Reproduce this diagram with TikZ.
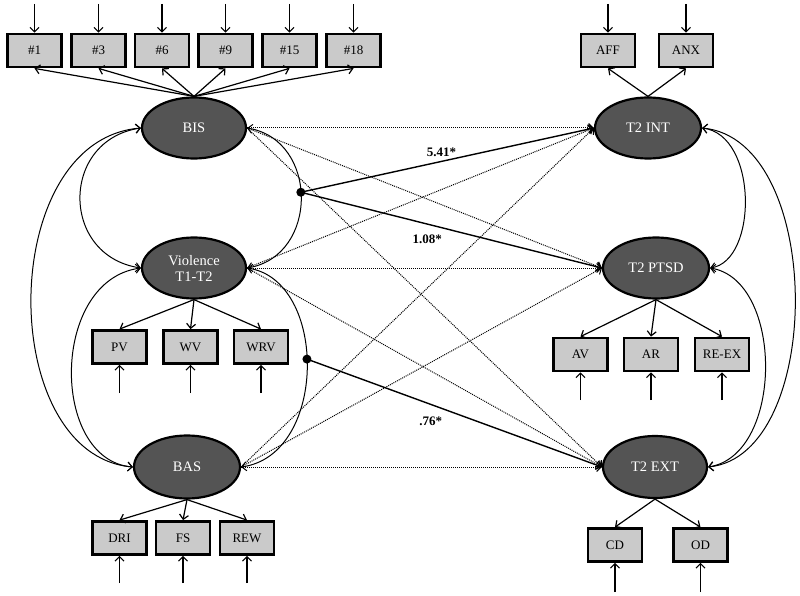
\documentclass[tikz,border=0pt]{standalone}
\usepackage{fontspec}
\setmainfont{Liberation Serif}
\usetikzlibrary{arrows.meta,shapes.geometric}
\definecolor{latgray}{HTML}{545454}
\definecolor{indgray}{HTML}{CACACA}
\begin{document}
\begin{tikzpicture}[x=1pt,y=-1pt,
  lat/.style={ellipse, draw=black, line width=2.2pt, fill=latgray, text=white,
    minimum width=104pt, minimum height=61pt, inner sep=0pt, align=center,
    font=\fontsize{14.5}{16}\selectfont},
  ind/.style={rectangle, draw=black, line width=2.8pt, fill=indgray,
    minimum width=54pt, minimum height=33pt, inner sep=0pt,
    font=\fontsize{13}{14}\selectfont},
  tipx/.tip={Straight Barb[length=4.5pt,width=9pt]},
  load/.style={-tipx, line width=1.2pt},
  errarr/.style={-tipx, line width=1.1pt},
  cov/.style={tipx-tipx, line width=1pt},
  dpath/.style={-tipx, line width=1pt, densely dotted},
  sig/.style={-tipx, line width=1.4pt},
  coef/.style={font=\bfseries\fontsize{13}{14}\selectfont},
  idot/.style={circle, fill=black, inner sep=0pt, minimum size=9pt}
]
\useasboundingbox (0,0) rectangle (800,596);

% latent variables
\node[lat] (BIS) at (194,128) {BIS};
\node[lat] (VIO) at (194,268) {Violence\\T1-T2};
\node[lat, minimum width=106pt, minimum height=63pt] (BAS) at (187,467) {BAS};
\node[lat, minimum width=106pt] (INT) at (648,128) {T2 INT};
\node[lat, minimum width=106pt] (PTSD) at (656,268) {T2 PTSD};
\node[lat, minimum height=62pt] (EXT) at (655,467) {T2 EXT};

% BIS indicators
\node[ind] (i1) at (34.5,50.5) {\#1};
\node[ind] (i3) at (98.5,50.5) {\#3};
\node[ind] (i6) at (162,50.5) {\#6};
\node[ind] (i9) at (225.5,50.5) {\#9};
\node[ind] (i15) at (289.5,50.5) {\#15};
\node[ind] (i18) at (353.5,50.5) {\#18};
% INT indicators
\node[ind] (aff) at (608,50.5) {AFF};
\node[ind] (anx) at (686,50.5) {ANX};
% Violence indicators
\node[ind] (pv) at (119.5,347) {PV};
\node[ind] (wv) at (190.5,347) {WV};
\node[ind] (wrv) at (261,347) {WRV};
% PTSD indicators
\node[ind] (av) at (580.5,354.5) {AV};
\node[ind] (ar) at (651,354.5) {AR};
\node[ind] (reex) at (722,354.5) {RE-EX};
% BAS indicators
\node[ind] (dri) at (119.5,538) {DRI};
\node[ind] (fs) at (183,538) {FS};
\node[ind] (rew) at (247,538) {REW};
% EXT indicators
\node[ind] (cd) at (615,545) {CD};
\node[ind] (od) at (700.5,545) {OD};

% error terms
\foreach \n/\x in {i1/34.5,i3/98.5,i6/162,i9/225.5,i15/289.5,i18/353.5,aff/608,anx/686}
  {\coordinate (e\n) at (\x,4); \draw[errarr] (e\n) -- (\n);}
\foreach \n/\x in {pv/119.5,wv/190.5,wrv/261}
  {\coordinate (e\n) at (\x,393); \draw[errarr] (e\n) -- (\n);}
\foreach \n/\x in {av/580.5,ar/651,reex/722}
  {\coordinate (e\n) at (\x,400); \draw[errarr] (e\n) -- (\n);}
\foreach \n/\x in {dri/119.5,fs/183,rew/247}
  {\coordinate (e\n) at (\x,583); \draw[errarr] (e\n) -- (\n);}
\foreach \n/\x in {cd/615,od/700.5}
  {\coordinate (e\n) at (\x,592); \draw[errarr] (e\n) -- (\n);}

% loadings
\foreach \n in {i1,i3,i6,i9,i15,i18} \draw[load] (BIS.north) -- (\n.south);
\foreach \n in {aff,anx} \draw[load] (INT.north) -- (\n.south);
\foreach \n in {pv,wv,wrv} \draw[load] (VIO.south) -- (\n.north);
\foreach \n in {av,ar,reex} \draw[load] (PTSD.south) -- (\n.north);
\foreach \n in {dri,fs,rew} \draw[load] (BAS.south) -- (\n.north);
\foreach \n in {cd,od} \draw[load] (EXT.south) -- (\n.north);

% left covariances
\draw[cov] (BIS.west) .. controls (60,140) and (60,256) .. (VIO.west);
\draw[cov] (VIO.west) .. controls (50,280) and (50,460) .. (BAS.west);
\draw[cov] (BIS.west) .. controls (-4,140) and (-4,455) .. (BAS.west);
% right covariances
\draw[cov] (INT.east) .. controls (758,135) and (758,261) .. (PTSD.east);
\draw[cov] (PTSD.east) .. controls (784,280) and (784,455) .. (EXT.east);
\draw[cov] (INT.east) .. controls (825,140) and (825,455) .. (EXT.east);

% interaction arcs
\draw[cov] (BIS.east) .. controls (319,140) and (319,256) .. coordinate[pos=0.47] (d1) (VIO.east);
\draw[cov] (VIO.east) .. controls (328,280) and (328,455) .. coordinate[pos=0.47] (d2) (BAS.east);
\node[idot] (dot1) at (d1) {};
\node[idot] (dot2) at (d2) {};

% structural paths (dotted)
\foreach \s in {BIS,VIO,BAS}
  \foreach \t in {INT,PTSD,EXT}
    \draw[dpath] (\s.east) -- (\t.west);

% significant interaction paths
\draw[sig] (dot1.center) -- (INT.west) node[coef, pos=0.48, above=1pt] (l1) {5.41*};
\draw[sig] (dot1.center) -- (PTSD.west) node[coef, pos=0.42, below=7pt] (l2) {1.08*};
\draw[sig] (dot2.center) -- (EXT.west) node[coef, pos=0.42, below=8pt] (l3) {.76*};
\end{tikzpicture}
\end{document}
